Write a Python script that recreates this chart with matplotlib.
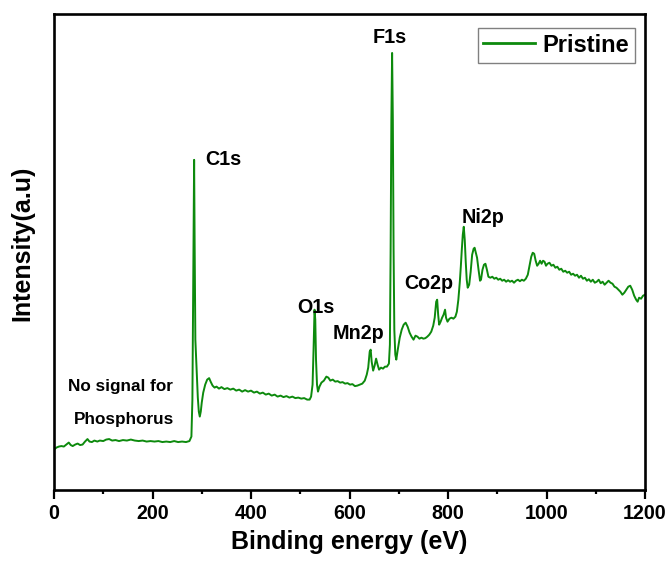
import matplotlib
matplotlib.use('Agg')
import matplotlib.pyplot as plt
from matplotlib.ticker import MultipleLocator

# XPS survey spectrum (pristine)
energy = [0, 5, 10, 15, 20, 25, 30, 34, 38, 43, 48, 53, 58, 63, 68, 72, 77, 82, 88, 93,
          100, 106, 112, 118, 125, 132, 140, 148, 156, 164, 172, 180, 188, 196, 204, 212,
          220, 228, 236, 244, 252, 260, 268, 275, 279, 281, 282.5, 283.5, 284.5, 285.5,
          287, 288.5, 290, 292, 294, 296, 298, 300, 303, 307, 311, 315, 318, 322, 326,
          330, 335, 340, 346, 352, 358, 364, 370, 376, 382, 388, 394, 400, 406, 412, 418,
          424, 430, 436, 442, 448, 454, 460, 466, 472, 478, 484, 490, 496, 502, 508, 514,
          519, 522, 525, 527, 529, 530.5, 532, 534, 536, 539, 543, 548, 553, 557, 561,
          566, 571, 576, 581, 586, 591, 596, 601, 606, 611, 616, 621, 626, 631, 635, 638,
          641, 643, 645, 648, 651, 654, 657, 660, 664, 668, 672, 676, 680, 682, 683.5,
          685, 686.5, 688, 689.5, 691, 693, 695, 698, 702, 706, 710, 714, 718, 722, 726,
          730, 734, 738, 742, 746, 750, 754, 758, 762, 766, 770, 773, 776, 778, 780, 782,
          785, 788, 791, 794, 796, 799, 803, 807, 811, 815, 818, 821, 824, 826, 828, 830,
          832, 834, 836, 838, 840, 843, 846, 849, 852, 854, 856, 859, 862, 865, 867, 870,
          873, 876, 879, 882, 886, 890, 894, 898, 902, 906, 910, 914, 918, 922, 926, 930,
          934, 938, 942, 946, 950, 954, 958, 962, 966, 969, 972, 975, 978, 981, 984, 987,
          990, 993, 996, 999, 1002, 1006, 1010, 1014, 1018, 1022, 1026, 1030, 1034, 1038,
          1042, 1046, 1050, 1054, 1058, 1062, 1066, 1070, 1074, 1078, 1082, 1086, 1090,
          1094, 1098, 1102, 1106, 1110, 1114, 1118, 1122, 1126, 1130, 1134, 1138, 1142,
          1146, 1150, 1154, 1158, 1162, 1166, 1170, 1174, 1178, 1182, 1185, 1188, 1192,
          1196, 1200]
intensity = [40, 42, 43, 43.5, 43, 45, 47, 44.5, 43.5, 45, 46, 44.5, 45, 48, 50.5, 48, 47.5,
             49, 48, 49, 48.5, 50, 50.5, 49, 49.5, 48.5, 49.5, 49, 50, 49, 48.5, 49, 48,
             48.5, 48, 48.5, 47.5, 48, 47.5, 48.5, 47.5, 48, 47.5, 48.5, 53, 90, 190, 255,
             330, 250, 150, 132, 115, 92, 78, 73, 78, 87, 97, 105, 110, 111.5, 108, 104,
             102, 103, 101, 102.5, 100.5, 101.5, 100, 101, 99, 100, 98, 99.5, 98, 99, 97,
             98, 96, 97, 95, 96, 94, 95, 93, 94, 92.5, 93.5, 92, 93, 91.5, 92, 91, 91.5,
             90, 90, 93, 105, 140, 180, 170, 130, 105, 98, 103, 107, 109, 113, 112, 109,
             110, 108, 108.5, 107, 107.5, 106, 106.5, 105, 105.5, 103.5, 104, 105, 106,
             109, 115, 122, 138, 140, 128, 119, 124, 131, 125, 120, 122, 121, 123, 123,
             126, 145, 240, 370, 437, 370, 240, 160, 135, 130, 140, 152, 160, 165, 167,
             163, 157, 153, 150, 154, 153, 151, 152, 151, 151.5, 153, 155, 158, 164, 172,
             188, 190, 175, 165, 168, 172, 175, 180, 172, 168, 171, 172, 171, 173, 178,
             190, 208, 223, 240, 255, 263, 250, 228, 210, 202, 205, 218, 235, 241, 242,
             238, 232, 220, 209, 210, 220, 225, 226, 220, 213, 212, 213, 211, 212, 210,
             211, 209, 210, 208, 209.5, 208, 209, 207, 209, 210, 208.5, 210, 209, 211,
             215, 225, 233, 237, 236, 229, 224, 226, 229, 226, 229, 228, 224, 226, 227,
             224, 225, 222, 223, 220, 221, 218, 219, 217, 218, 215, 216, 214, 215, 212,
             214, 211, 212, 209, 210.5, 208, 210, 207, 208, 210, 206.5, 208, 205, 207,
             209, 207, 206, 203, 202, 200, 198, 195, 197, 200, 203, 204, 200, 194, 190,
             188, 192, 191, 194, 195]

peak_labels = ['C1s', 'F1s', 'O1s', 'Mn2p', 'Co2p', 'Ni2p']
label_x = [308, 647, 494, 566, 712, 828]
label_y = [325, 447, 177, 151, 201, 267]

plt.rcParams['font.family'] = ['Liberation Sans', 'DejaVu Sans']
plt.rcParams['font.weight'] = 'bold'

fig = plt.figure(figsize=(6.7, 5.69), dpi=100)
ax = fig.add_axes([0.0806, 0.1397, 0.8821, 0.8357])

ax.plot(energy, intensity, color='#0d8a0d', lw=1.4, label='Pristine')

for lab, lx, ly in zip(peak_labels, label_x, label_y):
    ax.text(lx, ly, lab, fontsize=14.2, fontweight='bold')
ax.text(28, 99, 'No signal for', fontsize=12.3, fontweight='bold')
ax.text(40, 66, 'Phosphorus', fontsize=12.3, fontweight='bold')

ax.set_xlim(0, 1200)
ax.set_ylim(0, 476)
ax.xaxis.set_major_locator(MultipleLocator(200))
ax.xaxis.set_minor_locator(MultipleLocator(100))
ax.set_yticks([])
ax.tick_params(axis='x', which='major', direction='out', length=6.5, width=1.6,
               labelsize=14.2, pad=4)
ax.tick_params(axis='x', which='minor', direction='out', length=3.2, width=1.6)
for sp in ax.spines.values():
    sp.set_linewidth(1.9)

ax.set_xlabel('Binding energy (eV)', fontsize=18, fontweight='bold')
ax.set_ylabel('Intensity(a.u)', fontsize=18, fontweight='bold')
ax.xaxis.set_label_coords(0.5, -0.085)
ax.yaxis.set_label_coords(-0.033, 0.517)

leg = ax.legend(loc='upper right', bbox_to_anchor=(0.983, 0.971), borderaxespad=0,
                fancybox=False, framealpha=1, edgecolor='#808080', handlelength=2.2,
                handletextpad=0.3, borderpad=0.25, prop={'size': 17, 'weight': 'bold'})
leg.get_frame().set_linewidth(1.0)
for ln in leg.get_lines():
    ln.set_linewidth(2)

fig.savefig('out.png', dpi=100)
